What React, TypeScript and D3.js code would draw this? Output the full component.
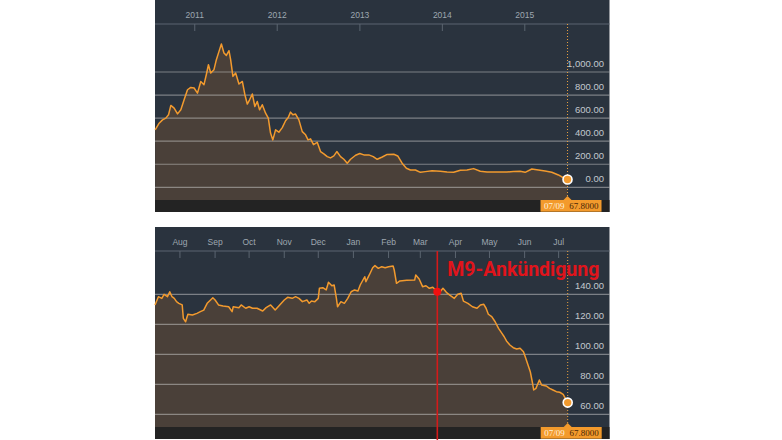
import React from "react";
import * as d3 from "d3";

// ---------- DATA ----------
// Top panel: 5-year history (decimal years) and price
const topYears = [
  2010.52, 2010.568, 2010.609, 2010.649, 2010.682, 2010.71, 2010.75, 2010.791, 2010.831, 2010.871,
  2010.912, 2010.952, 2010.992, 2011.033, 2011.073, 2011.112, 2011.142, 2011.166, 2011.194, 2011.233,
  2011.262, 2011.294, 2011.323, 2011.354, 2011.383, 2011.415, 2011.435, 2011.463, 2011.496, 2011.536,
  2011.577, 2011.608, 2011.637, 2011.665, 2011.698, 2011.729, 2011.758, 2011.786, 2011.819, 2011.859,
  2011.892, 2011.919, 2011.947, 2011.98, 2012.02, 2012.061, 2012.101, 2012.133, 2012.161, 2012.189,
  2012.222, 2012.262, 2012.303, 2012.343, 2012.373, 2012.403, 2012.439, 2012.484, 2012.524, 2012.564,
  2012.605, 2012.645, 2012.685, 2012.721, 2012.766, 2012.806, 2012.847, 2012.887, 2012.948, 2012.999,
  2013.048, 2013.108, 2013.162, 2013.21, 2013.271, 2013.331, 2013.411, 2013.459, 2013.512, 2013.564,
  2013.613, 2013.673, 2013.734, 2013.794, 2013.875, 2013.976, 2014.057, 2014.137, 2014.218, 2014.299,
  2014.379, 2014.46, 2014.541, 2014.62, 2014.701, 2014.782, 2014.862, 2014.943, 2015.004, 2015.085,
  2015.165, 2015.246, 2015.327, 2015.407, 2015.468, 2015.518,
];
const topValues = [
  498, 556, 585, 600, 629, 710, 687, 637, 672, 759,
  846, 866, 861, 817, 918, 890, 983, 1063, 991, 1020,
  1107, 1179, 1243, 1165, 1144, 1185, 1107, 962, 991, 896,
  918, 803, 722, 759, 809, 701, 744, 672, 716, 643,
  600, 470, 411, 498, 478, 518, 577, 605, 652, 629,
  635, 585, 483, 455, 411, 420, 370, 390, 310, 290,
  266, 255, 272, 310, 266, 243, 209, 243, 278, 293,
  281, 281, 266, 243, 263, 285, 287, 272, 209, 165,
  150, 150, 130, 136, 144, 139, 133, 130, 148, 150,
  162, 139, 133, 133, 133, 133, 136, 139, 130, 159,
  150, 142, 130, 107, 83, 67.8,
];
const topYTicks = [0, 200, 400, 600, 800, 1000];

// Bottom panel: last 12 months
const bottomDates = [
  "2014-07-10", "2014-07-13", "2014-07-16", "2014-07-18", "2014-07-21", "2014-07-23", "2014-07-25", "2014-07-27", "2014-07-29", "2014-07-31",
  "2014-08-03", "2014-08-04", "2014-08-06", "2014-08-08", "2014-08-12", "2014-08-16", "2014-08-19", "2014-08-22", "2014-08-25", "2014-08-28",
  "2014-08-30", "2014-09-01", "2014-09-04", "2014-09-08", "2014-09-13", "2014-09-16", "2014-09-17", "2014-09-22", "2014-09-24", "2014-09-28",
  "2014-10-01", "2014-10-04", "2014-10-08", "2014-10-13", "2014-10-16", "2014-10-20", "2014-10-24", "2014-10-28", "2014-11-01", "2014-11-04",
  "2014-11-08", "2014-11-11", "2014-11-14", "2014-11-17", "2014-11-21", "2014-11-23", "2014-11-25", "2014-11-28", "2014-12-01", "2014-12-02",
  "2014-12-05", "2014-12-08", "2014-12-10", "2014-12-13", "2014-12-15", "2014-12-17", "2014-12-18", "2014-12-21", "2014-12-24", "2014-12-27",
  "2014-12-30", "2015-01-02", "2015-01-05", "2015-01-07", "2015-01-11", "2015-01-12", "2015-01-15", "2015-01-18", "2015-01-20", "2015-01-23",
  "2015-01-26", "2015-01-29", "2015-02-01", "2015-02-05", "2015-02-06", "2015-02-08", "2015-02-11", "2015-02-17", "2015-02-24", "2015-02-25",
  "2015-02-28", "2015-03-03", "2015-03-06", "2015-03-09", "2015-03-12", "2015-03-16", "2015-03-19", "2015-03-21", "2015-03-24", "2015-03-27",
  "2015-03-31", "2015-04-03", "2015-04-06", "2015-04-08", "2015-04-12", "2015-04-16", "2015-04-20", "2015-04-23", "2015-04-26", "2015-04-28",
  "2015-04-30", "2015-05-03", "2015-05-06", "2015-05-09", "2015-05-12", "2015-05-14", "2015-05-16", "2015-05-19", "2015-05-22", "2015-05-25",
  "2015-05-28", "2015-05-31", "2015-06-02", "2015-06-04", "2015-06-06", "2015-06-08", "2015-06-09", "2015-06-11", "2015-06-14", "2015-06-16",
  "2015-06-20", "2015-06-23", "2015-06-26", "2015-06-29", "2015-07-02", "2015-07-05", "2015-07-09",
];
const bottomValues = [
  132.9, 138.4, 137.3, 140, 138.4, 141.7, 138.4, 137.3, 135.1, 134,
  132.9, 124, 121.7, 126.7, 126.2, 127.3, 128.4, 129.5, 134, 136.2,
  137.7, 136.2, 132.9, 132.2, 131.7, 128.4, 131.7, 131.1, 132.9, 130.7,
  131.7, 130.7, 130.7, 128.9, 131.1, 132.9, 129.5, 132.9, 136.2, 138,
  137.3, 138.4, 137.3, 135.1, 136.2, 134, 135.5, 135.1, 137.3, 144,
  144.4, 142.9, 148, 145.7, 146.2, 137.3, 131.7, 135.1, 134, 137.3,
  141.7, 142.9, 142.2, 146.2, 151.7, 148.4, 152.9, 157.7, 159.1, 157.3,
  158.4, 157.7, 158.4, 158.9, 156.2, 147.3, 148.9, 149.3, 149.5, 152.9,
  150.2, 145.1, 145.7, 144, 144.7, 141.7, 142.2, 144, 141.3, 139.5,
  137.3, 140, 140.7, 135.5, 134, 131.7, 130.7, 132.9, 133.3, 130.7,
  126.7, 125.1, 121.7, 117.3, 114, 111.7, 108.9, 106.2, 104.4, 103.5,
  104, 101.7, 97.3, 92.9, 88.4, 80.7, 76.2, 77.3, 82.9, 79.5,
  78.9, 77.3, 76.2, 75.1, 74.7, 73.3, 67.8,
];
const bottomYTicks = [60, 80, 100, 120, 140];

const lastLabelDate = "07/09";
const lastLabelValue = "67.8000";
const annotationDate = "2015-03-16";
const annotationValue = 141.7;
const annotationText = "M9-Ankündigung";

// ---------- HELPERS ----------
const decYear = (y: number) => {
  const yr = Math.floor(y);
  const s = Date.UTC(yr, 0, 1);
  const e = Date.UTC(yr + 1, 0, 1);
  return new Date(s + (y - yr) * (e - s));
};
const parse = d3.utcParse("%Y-%m-%d");

const COLORS = {
  bg: "#2a333e",
  area: "#4a4039",
  band: "#232323",
  grid: "rgba(205,205,205,0.5)",
  axis: "#5b6570",
  tickText: "#9ea7b0",
  yText: "#c3c8ce",
  line: "#f29a2e",
  box: "#f39a2c",
};

const PANEL_X0 = 155;
const PANEL_X1 = 609.5;
const PANEL_H = 212;
const AXIS_Y = 24;
const BAND_TOP = 200;

type PanelProps = {
  top: number;
  dates: Date[];
  values: number[];
  xDomain: [Date, Date];
  xRangeEnd: number;
  yScale: d3.ScaleLinear<number, number>;
  yTicks: number[];
  xTicks: Date[];
  xFmt: (d: Date) => string;
  annotation?: { date: Date; value: number; text: string };
};

function Panel(p: PanelProps) {
  const x = d3.scaleUtc().domain(p.xDomain).range([PANEL_X0, p.xRangeEnd]);
  const y = p.yScale;
  const pts = p.dates.map((d, i) => [d, p.values[i]] as [Date, number]);
  const area = d3
    .area<[Date, number]>()
    .x((d) => x(d[0]))
    .y0(BAND_TOP)
    .y1((d) => y(d[1]))(pts);
  const line = d3
    .line<[Date, number]>()
    .x((d) => x(d[0]))
    .y((d) => y(d[1]))(pts);
  const last = pts[pts.length - 1];
  const lx = x(last[0]);
  const ly = y(last[1]);
  return (
    <g transform={`translate(0,${p.top})`}>
      <rect x={PANEL_X0} y={0} width={PANEL_X1 - PANEL_X0} height={PANEL_H} fill={COLORS.bg} />
      <path d={area || ""} fill={COLORS.area} />
      {p.yTicks.map((t) => (
        <g key={t}>
          <line x1={PANEL_X0} x2={PANEL_X1} y1={y(t)} y2={y(t)} stroke={COLORS.grid} strokeWidth={1.2} />
          <text
            x={604}
            y={y(t) - 5}
            textAnchor="end"
            fontSize={9.5}
            fontFamily="'Liberation Sans', Arial, sans-serif"
            fill={COLORS.yText}
          >
            {d3.format(",.2f")(t)}
          </text>
        </g>
      ))}
      <rect x={PANEL_X0} y={BAND_TOP} width={PANEL_X1 - PANEL_X0} height={PANEL_H - BAND_TOP} fill={COLORS.band} />
      <line x1={PANEL_X0} x2={PANEL_X1} y1={AXIS_Y} y2={AXIS_Y} stroke={COLORS.axis} strokeWidth={1} />
      {p.xTicks.map((t, i) => (
        <g key={i}>
          <line x1={x(t)} x2={x(t)} y1={AXIS_Y} y2={AXIS_Y + 7} stroke={COLORS.axis} strokeWidth={1} />
          <text
            x={x(t)}
            y={AXIS_Y - 6}
            textAnchor="middle"
            fontSize={8.5}
            fontFamily="'Liberation Sans', Arial, sans-serif"
            fill={COLORS.tickText}
          >
            {p.xFmt(t)}
          </text>
        </g>
      ))}
      <path d={line || ""} fill="none" stroke={COLORS.line} strokeWidth={1.5} strokeLinejoin="round" />
      <line
        x1={lx}
        x2={lx}
        y1={AXIS_Y}
        y2={BAND_TOP - 3}
        stroke="#e9a040"
        strokeWidth={1}
        strokeDasharray="1,2"
      />
      {p.annotation && (
        <g>
          <line
            x1={x(p.annotation.date)}
            x2={x(p.annotation.date)}
            y1={AXIS_Y}
            y2={PANEL_H + 5}
            stroke="#d41a1a"
            strokeWidth={1.6}
          />
          <circle cx={x(p.annotation.date)} cy={y(p.annotation.value)} r={4} fill="#f01010" />
          <text
            x={x(p.annotation.date) + 10}
            y={48.5}
            fontSize={19.5}
            fontWeight="bold"
            fontFamily="Roboto, 'Liberation Sans', sans-serif"
            fill="#e0141b"
            textLength={152}
            lengthAdjust="spacingAndGlyphs"
          >
            {p.annotation.text}
          </text>
        </g>
      )}
      <circle cx={lx} cy={ly} r={4.5} fill={COLORS.line} stroke="#fff" strokeWidth={1.6} />
      <path d={`M${lx - 4},${BAND_TOP} L${lx},${BAND_TOP - 4} L${lx + 4},${BAND_TOP} Z`} fill={COLORS.box} />
      <rect x={lx - 27} y={BAND_TOP} width={61} height={11.7} fill={COLORS.box} />
      <text
        x={lx - 23.5}
        y={BAND_TOP + 9.3}
        fontSize={9}
        fontFamily="'Liberation Serif', serif"
        fill="#fff1dc"
      >
        {lastLabelDate}
      </text>
      <text
        x={lx + 31}
        y={BAND_TOP + 9.3}
        textAnchor="end"
        fontSize={9}
        fontFamily="'Liberation Serif', serif"
        fill="#4a2608"
      >
        {lastLabelValue}
      </text>
    </g>
  );
}

export default function App() {
  const topDates = topYears.map(decYear);
  const botDates = bottomDates.map((s) => parse(s) as Date);

  const topY = d3.scaleLinear().domain([0, 1000]).range([187.3, 72]);
  const botY = d3.scaleLinear().domain([60, 140]).range([187.3, 67.3]);

  const topDomain: [Date, Date] = [new Date(Date.UTC(2010, 6, 9)), new Date(Date.UTC(2015, 6, 9))];
  const botDomain: [Date, Date] = [new Date(Date.UTC(2014, 6, 10)), new Date(Date.UTC(2015, 6, 9))];

  const topTicks = d3.utcYear.range(new Date(Date.UTC(2011, 0, 1)), new Date(Date.UTC(2015, 1, 1)));
  const botTicks = d3.utcMonth.range(new Date(Date.UTC(2014, 7, 1)), new Date(Date.UTC(2015, 6, 2)));

  return (
    <div style={{ position: "absolute", left: 0, top: 0 }}>
      <svg width={782} height={440} style={{ display: "block", background: "#fff" }}>
        <Panel
          top={0}
          dates={topDates}
          values={topValues}
          xDomain={topDomain}
          xRangeEnd={567.5}
          yScale={topY}
          yTicks={topYTicks}
          xTicks={topTicks}
          xFmt={d3.utcFormat("%Y")}
        />
        <Panel
          top={227}
          dates={botDates}
          values={bottomValues}
          xDomain={botDomain}
          xRangeEnd={567.7}
          yScale={botY}
          yTicks={bottomYTicks}
          xTicks={botTicks}
          xFmt={d3.utcFormat("%b")}
          annotation={{ date: parse(annotationDate) as Date, value: annotationValue, text: annotationText }}
        />
      </svg>
    </div>
  );
}
